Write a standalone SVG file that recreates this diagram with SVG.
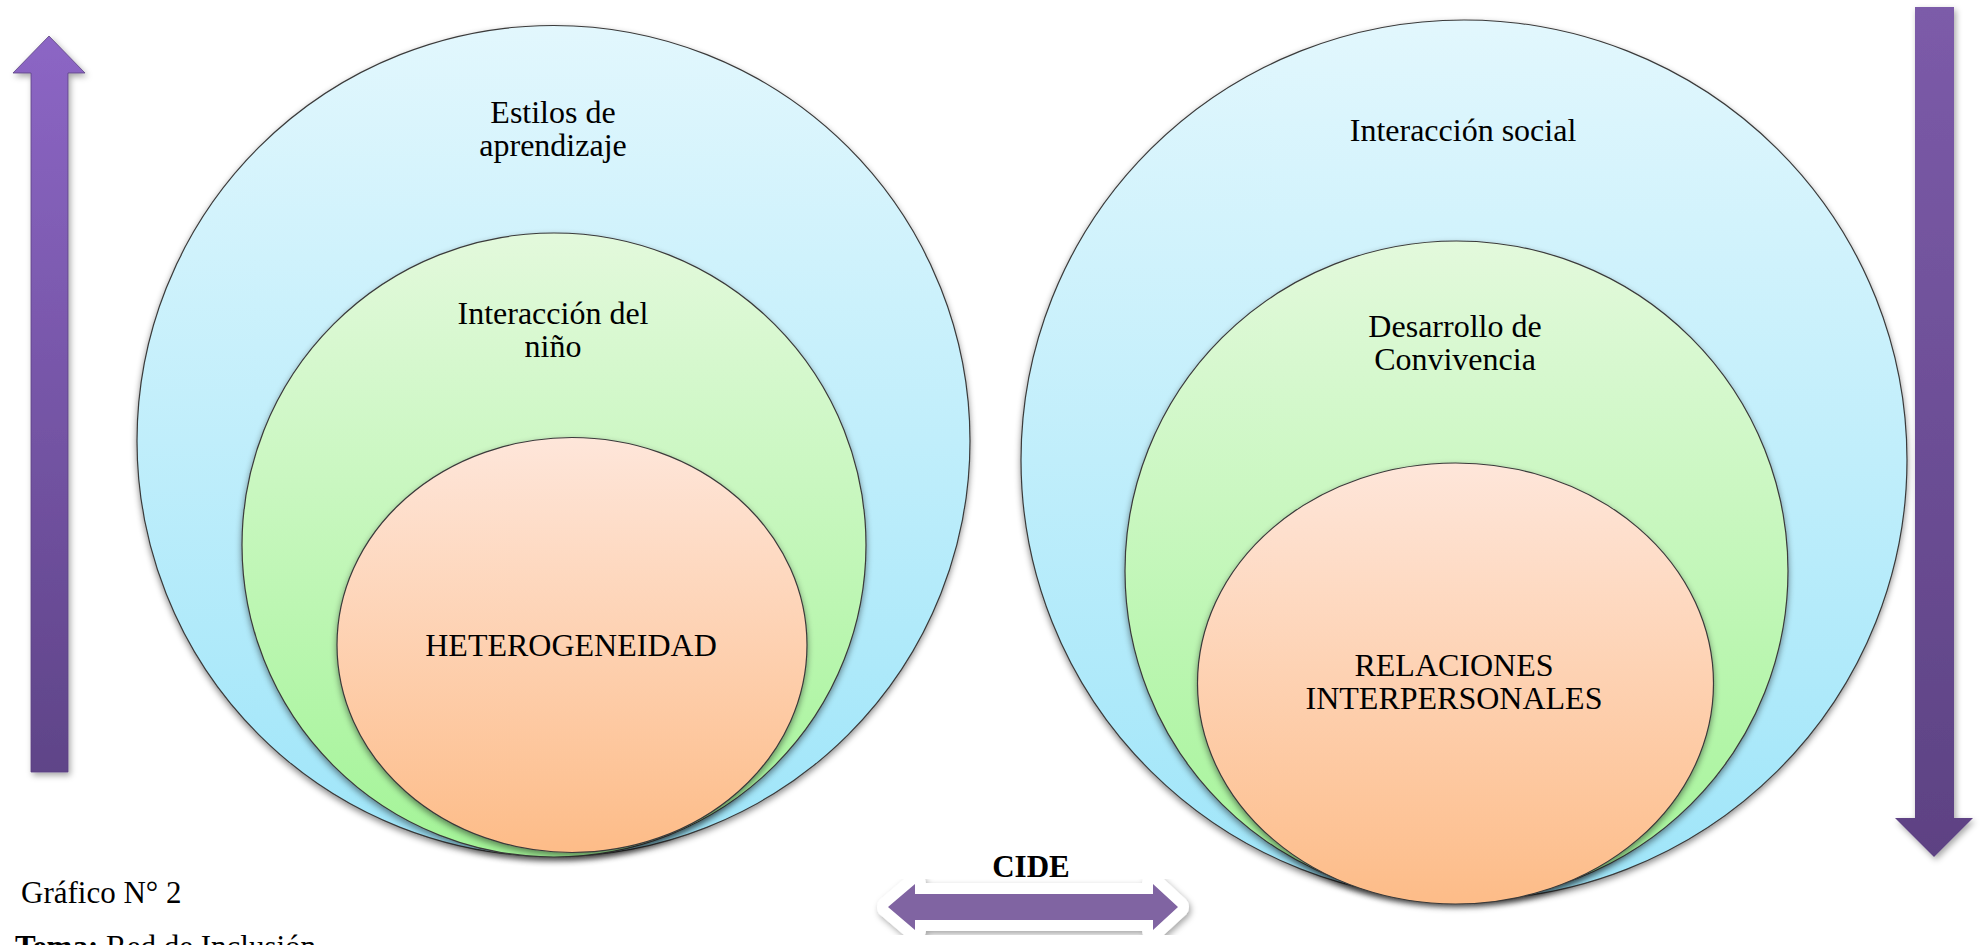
<svg xmlns="http://www.w3.org/2000/svg" width="1980" height="945" viewBox="0 0 1980 945">
<defs>
<linearGradient id="gBlue" x1="0" y1="0" x2="0" y2="1"><stop offset="0" stop-color="#e2f7fd"/><stop offset="1" stop-color="#9ee5f9"/></linearGradient>
<linearGradient id="gGreen" x1="0" y1="0" x2="0" y2="1"><stop offset="0" stop-color="#e3f9dc"/><stop offset="1" stop-color="#a3f497"/></linearGradient>
<linearGradient id="gOrange" x1="0" y1="0" x2="0" y2="1"><stop offset="0" stop-color="#fee6da"/><stop offset="1" stop-color="#fdbc88"/></linearGradient>
<linearGradient id="gUp" x1="0" y1="0" x2="0" y2="1"><stop offset="0" stop-color="#8c66c5"/><stop offset="1" stop-color="#5f4488"/></linearGradient>
<linearGradient id="gDown" x1="0" y1="0" x2="0" y2="1"><stop offset="0" stop-color="#7c5ba9"/><stop offset="1" stop-color="#5d4283"/></linearGradient>
<filter id="sh" x="-10%" y="-10%" width="120%" height="125%"><feDropShadow dx="0" dy="3" stdDeviation="3" flood-color="#000" flood-opacity="0.45"/></filter>
<filter id="ash" x="-30%" y="-10%" width="160%" height="120%"><feDropShadow dx="2" dy="3" stdDeviation="3" flood-color="#000" flood-opacity="0.35"/></filter>
</defs>
<style>
.c{stroke:#3a3a3a;stroke-width:1.2;filter:url(#sh)}
.t{font-family:"Liberation Serif","Times New Roman",serif;font-size:32px;fill:#000;text-anchor:middle}
.cap{font-family:"Liberation Serif","Times New Roman",serif;font-size:31px;fill:#000}
</style>
<rect width="1980" height="945" fill="#fff"/>

<g id="arrow-up" filter="url(#ash)">
<path d="M31,772 L31,73 L13,73 L49,36 L85,73 L68,73 L68,772 Z" fill="url(#gUp)" stroke="#5a4280" stroke-width="0.8"/>
</g>
<g id="arrow-down" filter="url(#ash)">
<path d="M1915,7 L1954,7 L1954,818 L1973,818 L1934,857 L1895,818 L1915,818 Z" fill="url(#gDown)"/>
</g>

<g id="left-outer">
<ellipse class="c" cx="553.5" cy="441" rx="416.5" ry="415.5" fill="url(#gBlue)"/>
<text class="t" x="553" y="123">Estilos de</text>
<text class="t" x="553" y="156">aprendizaje</text>
</g>
<g id="left-middle">
<ellipse class="c" cx="554" cy="545" rx="312" ry="312" fill="url(#gGreen)"/>
<text class="t" x="553" y="324">Interacción del</text>
<text class="t" x="553" y="357">niño</text>
</g>
<g id="left-inner">
<ellipse class="c" cx="572" cy="645" rx="235" ry="207.5" fill="url(#gOrange)"/>
<text class="t" x="571" y="656">HETEROGENEIDAD</text>
</g>

<g id="right-outer">
<ellipse class="c" cx="1464" cy="460" rx="443" ry="440" fill="url(#gBlue)"/>
<text class="t" x="1463" y="141">Interacción social</text>
</g>
<g id="right-middle">
<ellipse class="c" cx="1456.5" cy="571" rx="331.5" ry="330" fill="url(#gGreen)"/>
<text class="t" x="1455" y="337">Desarrollo de</text>
<text class="t" x="1455" y="370">Convivencia</text>
</g>
<g id="right-inner">
<ellipse class="c" cx="1455.5" cy="683.5" rx="258" ry="220.5" fill="url(#gOrange)"/>
<text class="t" x="1454" y="676">RELACIONES</text>
<text class="t" x="1454" y="709">INTERPERSONALES</text>
</g>

<g id="connectors">
<g id="cide-arrow">
<path d="M888,907 L915,884 L915,894 L1153,894 L1153,884 L1178,907 L1153,930 L1153,920 L915,920 L915,930 Z" fill="#fff" stroke="#fff" stroke-width="22" stroke-linejoin="round" filter="url(#ash)"/>
<path d="M888,907 L915,884 L915,894 L1153,894 L1153,884 L1178,907 L1153,930 L1153,920 L915,920 L915,930 Z" fill="#8064a2"/>
</g>
</g>
<text class="cap" x="1031" y="877" text-anchor="middle" font-weight="bold">CIDE</text>

<g id="caption">
<text class="cap" x="21" y="903">Gráfico N° 2</text>
<text class="cap" x="15" y="957"><tspan font-weight="bold">Tema:</tspan> Red de Inclusión</text>
</g>
</svg>
